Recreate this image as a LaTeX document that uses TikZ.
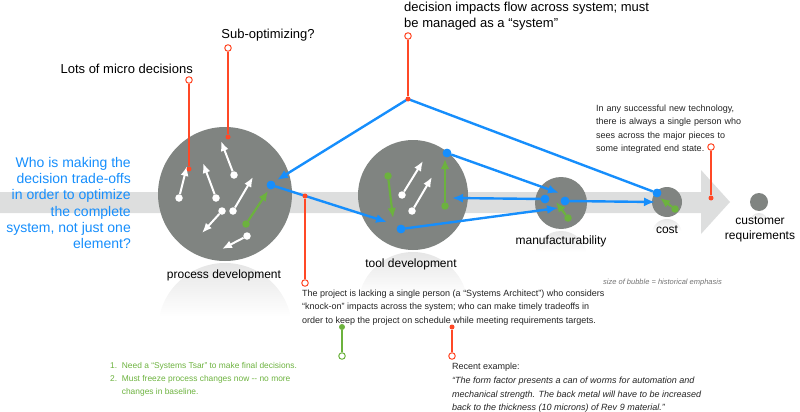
\documentclass[tikz,border=0pt]{standalone}
\usepackage{fontspec}
\setmainfont{Liberation Sans}
\usetikzlibrary{arrows.meta}

\definecolor{bubblegray}{RGB}{128,132,129}
\definecolor{bandgray}{RGB}{221,222,222}
\definecolor{flowblue}{RGB}{22,142,252}
\definecolor{notegreen}{RGB}{108,178,62}
\definecolor{notered}{RGB}{255,72,38}
\definecolor{textgray}{RGB}{35,35,35}

\tikzset{
  bubble/.style={circle, fill=bubblegray, inner sep=0pt, minimum size=#1},
  wdot/.style={circle, fill=white, inner sep=0pt, minimum size=7.5pt},
  gdot/.style={circle, fill=notegreen, inner sep=0pt, minimum size=7.5pt},
  bdot/.style={circle, fill=flowblue, inner sep=0pt, minimum size=8.5pt},
  rdot/.style={circle, fill=notered, inner sep=0pt, minimum size=5pt},
  ring/.style={circle, draw=#1, fill=white, line width=1pt, inner sep=0pt, minimum size=6.5pt},
  warrow/.style={draw=white, line width=2pt, -{Latex[length=10pt,width=8pt]}},
  garrow/.style={draw=notegreen, line width=2.2pt, -{Latex[length=10pt,width=8.5pt]}},
  barrow/.style={draw=flowblue, line width=2.4pt, -{Latex[length=11pt,width=9pt]}},
  bline/.style={draw=flowblue, line width=2.4pt},
  lead/.style={draw=#1, line width=1.1pt},
  bigtext/.style={font=\fontsize{13}{16.2}\selectfont, inner sep=0pt},
  tag/.style={font=\fontsize{12}{15}\selectfont, inner sep=0pt, align=center},
  note/.style={font=\fontsize{9}{13.2}\selectfont, inner sep=0pt, align=left, text=textgray, anchor=north west},
}

% reflection under a bubble: centre x, centre y, radius
\newcommand\bubblemirror[3]{
  \begin{scope}
    \clip (#1,#2+2*#3+2) circle (#3);
    \shade[top color=black!10, bottom color=white] (#1-#3,#2+#3+2) rectangle (#1+#3,#2+1.8*#3+2);
  \end{scope}
}

\begin{document}
\begin{tikzpicture}[x=1pt,y=-1pt]
\useasboundingbox (0,0) rectangle (800,412);

% flow band
\fill[bandgray] (0,192) -- (701,192) -- (701,170) -- (730,202) -- (701,234) -- (701,213) -- (0,213) -- cycle;

% reflections
\bubblemirror{225}{194}{67}
\bubblemirror{413}{195}{55}
\bubblemirror{561}{203}{26}
\bubblemirror{667}{202}{15}
\bubblemirror{759}{202}{9}

% bubbles
\node[bubble=134pt] (proc) at (225,194) {};
\node[bubble=110pt] (tool) at (413,195) {};
\node[bubble=52pt] (manu) at (561,203) {};
\node[bubble=30pt] (cost) at (667,202) {};
\node[bubble=18pt] (cust) at (759,202) {};

\node[tag] (proclbl) at (224,275) {process development};
\node[tag] (toollbl) at (411,264) {tool development};
\node[tag] (manulbl) at (561,241) {manufacturability};
\node[tag] (costlbl) at (667,230) {cost};
\node[tag] (custlbl) at (760,229) {customer\\requirements};

% micro decisions
\foreach \a/\b/\c/\d [count=\i] in {179/198/187/166, 216/198/203/163, 234/175/221/141,
    233/211/253/177, 222/211/202/233, 247/236/222/249, 402/195/423/161, 412/211/432/177}
{
  \node[wdot] (w\i) at (\a,\b) {};
  \coordinate (w\i t) at (\c,\d);
  \draw[warrow] (w\i) -- (w\i t);
}

% green local moves
\foreach \a/\b/\c/\d [count=\i] in {246/224/268/191, 445/206/445/159, 388/176/393/218,
    568/218/556/202, 675/209/660/198}
{
  \node[gdot] (g\i) at (\a,\b) {};
  \coordinate (g\i t) at (\c,\d);
  \draw[garrow] (g\i) -- (g\i t);
}

% red call-outs
\node[bigtext, anchor=east] (micro) at (193,69) {Lots of micro decisions};
\node[ring=notered] (microring) at (189,80) {};
\node[rdot] (microdot) at (189,169) {};
\draw[lead=notered] (microring) -- (microdot);

\node[bigtext] (subopt) at (268,35) {Sub-optimizing?};
\node[ring=notered] (suboptring) at (228,48) {};
\node[rdot] (suboptdot) at (228,137) {};
\draw[lead=notered] (suboptring) -- (suboptdot);

\node[bigtext, anchor=north west, align=left] (sysflow) at (404,1.5) {decision impacts flow across system; must\\be managed as a “system”};
\node[ring=notered] (hubring) at (408,36) {};

% system flow
\node[bdot] (pb) at (271,185) {};
\coordinate (pa) at (277,180);
\node[bdot] (tb1) at (401,229) {};
\node[bdot] (tb2) at (447,153) {};
\coordinate (ta1) at (387,222);
\coordinate (ta2) at (452,198);
\node[bdot] (mb1) at (545,199) {};
\node[bdot] (mb2) at (565,201) {};
\coordinate (ma1) at (558,208);
\coordinate (ma2) at (559,193);
\node[bdot] (cb) at (657,193) {};
\coordinate (ca) at (655,202);
\coordinate (hub) at (408,99);

\draw[barrow] (hub) -- (pa);
\draw[bline] (hub) -- (cb);
\draw[barrow] (pb) -- (ta1);
\draw[barrow] (tb1) -- (ma1);
\draw[barrow] (tb2) -- (ma2);
\draw[barrow] (mb1) -- (ta2);
\draw[barrow] (mb2) -- (ca);
\foreach \n in {pb,tb1,tb2,mb1,mb2,cb}
  \fill[flowblue] (\n) circle (4.3);

\node[rdot] (hubdot) at (hub) {};
\draw[lead=notered] (hubring) -- (hubdot);

% left question
\node[font=\fontsize{14}{16.2}\selectfont, inner sep=0pt, align=right, anchor=east, text=flowblue] (question) at (131,203)
  {Who is making the\\decision trade-offs\\in order to optimize\\the complete\\system, not just one\\element?};

% single person note
\node[note, text width=150pt] (oneperson) at (596,105) {In any successful new technology,\\there is always a single person who\\sees across the major pieces to\\some integrated end state.};
\node[ring=notered] (oneperring) at (711,147) {};
\node[rdot] (oneperdot) at (711,198) {};
\draw[lead=notered] (oneperring) -- (oneperdot);

% systems architect note
\node[rdot] (archdot) at (305,196) {};
\node[ring=notered] (archring) at (305,283) {};
\draw[lead=notered] (archdot) -- (archring);
\node[note] (arch) at (302,290) {The project is lacking a single person (a “Systems Architect”) who considers\\“knock-on” impacts across the system; who can make timely tradeoffs in\\order to keep the project on schedule while meeting requirements targets.};

\node[gdot, minimum size=6pt] (tsardot) at (342,327) {};
\node[ring=notegreen] (tsarring) at (342,356) {};
\draw[lead=notegreen] (tsardot) -- (tsarring);
\node[note, font=\fontsize{8.4}{13}\selectfont, text=notegreen] (tsar) at (110,362) {1.\ \ Need a “Systems Tsar” to make final decisions.\\2.\ \ Must freeze process changes now -{}- no more\\\phantom{2.\ \ }changes in baseline.};

\node[rdot] (exdot) at (452,327) {};
\node[ring=notered] (exring) at (452,356) {};
\draw[lead=notered] (exdot) -- (exring);
\node[note] (example) at (452,363) {Recent example:};
\node[note, font=\fontsize{9}{13.6}\selectfont\itshape] (quote) at (452,377) {“The form factor presents a can of worms for automation and\\mechanical strength. The back metal will have to be increased\\back to the thickness (10 microns) of Rev 9 material.”};

\node[inner sep=0pt, anchor=west, font=\fontsize{7.5}{9}\selectfont\itshape, text=black!55] (legend) at (603,283) {size of bubble = historical emphasis};

\end{tikzpicture}
\end{document}
